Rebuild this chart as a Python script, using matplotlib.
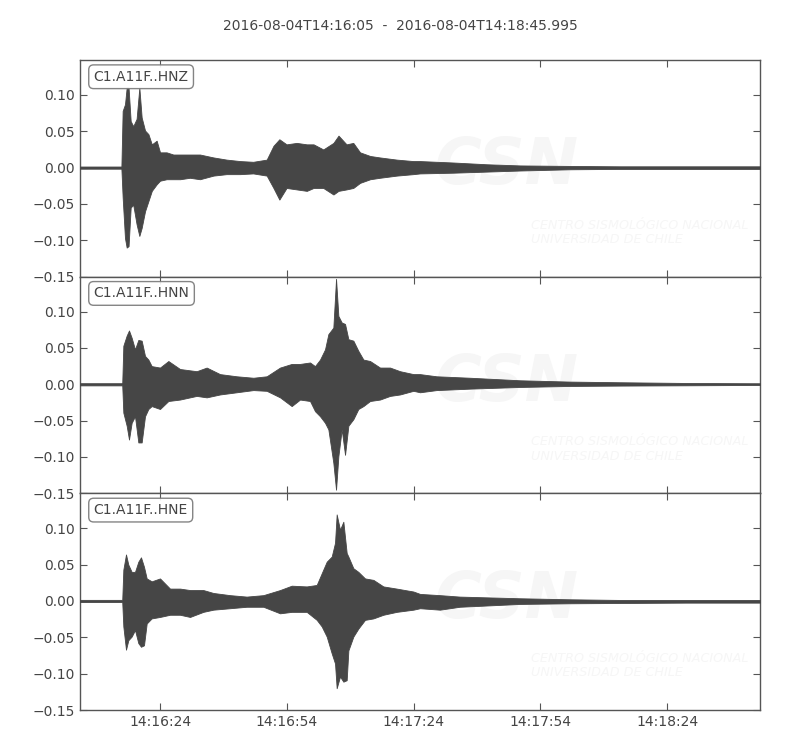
import numpy as np
import matplotlib
matplotlib.use("Agg")
import matplotlib.pyplot as plt
import matplotlib.dates as mdates

# ── data (envelopes; seconds after start, amplitude) ──
START = np.datetime64("2016-08-04T14:16:05.000")
DURATION = 160.995
TITLE = "2016-08-04T14:16:05  -  2016-08-04T14:18:45.995"
CHANNELS = ["C1.A11F..HNZ", "C1.A11F..HNN", "C1.A11F..HNE"]

z_t = [0, 9.8, 10.1, 10.65, 11.05, 11.5, 12.0, 12.6, 13.4, 14.05, 14.6, 15.4, 16.2, 17.0,
       18.15, 18.95, 20.5, 22.1, 23.7, 26.0, 28.4, 31.6, 34.7, 37.9, 41.0, 44.2, 45.8, 47.2,
       48.9, 51.3, 53.7, 55.3, 57.6, 60.0, 61.2, 63.1, 64.7, 66.3, 68.7, 71.0, 75.0, 78.9,
       80.5, 88.4, 96.3, 104.2, 116.0, 127.8, 143.6, 161.0]
z_top = [0.0015, 0.0015, 0.078, 0.087, 0.110, 0.110, 0.064, 0.057, 0.067, 0.110, 0.069, 0.051,
         0.046, 0.032, 0.037, 0.021, 0.021, 0.018, 0.018, 0.018, 0.018, 0.014, 0.011, 0.009,
         0.008, 0.011, 0.030, 0.039, 0.032, 0.034, 0.032, 0.032, 0.025, 0.034, 0.044, 0.032,
         0.034, 0.021, 0.016, 0.014, 0.011, 0.009, 0.009, 0.007, 0.0046, 0.003, 0.0023,
         0.0018, 0.0018, 0.0018]
z_bot = [-0.0015, -0.0015, -0.041, -0.097, -0.110, -0.108, -0.055, -0.051, -0.078, -0.094,
         -0.083, -0.060, -0.046, -0.032, -0.023, -0.018, -0.016, -0.016, -0.016, -0.014,
         -0.016, -0.011, -0.009, -0.009, -0.008, -0.011, -0.028, -0.044, -0.028, -0.030,
         -0.032, -0.028, -0.028, -0.037, -0.032, -0.030, -0.028, -0.021, -0.016, -0.014,
         -0.011, -0.009, -0.008, -0.007, -0.0055, -0.004, -0.0023, -0.0018, -0.0018, -0.0018]

n_t = [0, 10.0, 10.26, 11.05, 11.6, 12.23, 13.02, 13.81, 14.6, 15.39, 16.18, 16.97, 18.94,
       20.92, 23.68, 27.62, 29.99, 33.15, 37.1, 41.04, 44.2, 47.36, 50.12, 52.09, 54.46, 55.64,
       56.83, 58.01, 58.8, 59.98, 60.62, 61.17, 61.96, 62.75, 63.54, 64.72, 65.9, 67.09, 68.67,
       71.03, 73.4, 75.77, 78.93, 80.5, 84.4, 92.3, 104.2, 116.0, 127.8, 143.6, 161.0]
n_top = [0.0015, 0.0015, 0.053, 0.067, 0.074, 0.064, 0.048, 0.061, 0.060, 0.039, 0.034, 0.025,
         0.023, 0.032, 0.021, 0.018, 0.023, 0.014, 0.011, 0.009, 0.011, 0.023, 0.028, 0.028,
         0.030, 0.025, 0.034, 0.048, 0.069, 0.078, 0.145, 0.094, 0.085, 0.083, 0.062, 0.060,
         0.046, 0.034, 0.032, 0.023, 0.023, 0.018, 0.014, 0.014, 0.011, 0.009, 0.0055, 0.0037,
         0.0028, 0.0018, 0.0014]
n_bot = [-0.0015, -0.0015, -0.039, -0.057, -0.076, -0.053, -0.044, -0.080, -0.080, -0.044,
         -0.034, -0.030, -0.034, -0.023, -0.021, -0.016, -0.018, -0.014, -0.011, -0.008,
         -0.009, -0.018, -0.030, -0.021, -0.023, -0.037, -0.044, -0.053, -0.062, -0.108,
         -0.145, -0.099, -0.062, -0.097, -0.057, -0.048, -0.034, -0.030, -0.023, -0.021,
         -0.016, -0.014, -0.009, -0.011, -0.008, -0.006, -0.0037, -0.0023, -0.0018, -0.0014,
         -0.0009]

e_t = [0, 10.0, 10.26, 10.89, 11.44, 12.23, 13.02, 13.81, 14.44, 15.15, 15.79, 16.97, 18.94,
       21.31, 23.68, 26.05, 29.2, 31.57, 35.52, 39.46, 43.41, 47.36, 50.12, 53.67, 56.04, 57.22,
       58.41, 59.59, 60.38, 60.77, 61.56, 62.35, 63.14, 63.54, 64.72, 65.9, 67.48, 69.46, 71.82,
       74.98, 78.93, 80.5, 85.2, 89.9, 104.2, 116.0, 127.8, 143.6, 161.0]
e_top = [0.0015, 0.0015, 0.043, 0.064, 0.050, 0.040, 0.040, 0.054, 0.060, 0.047, 0.031, 0.027,
         0.031, 0.017, 0.017, 0.015, 0.015, 0.011, 0.008, 0.006, 0.008, 0.015, 0.021, 0.020,
         0.022, 0.038, 0.054, 0.061, 0.080, 0.119, 0.098, 0.109, 0.066, 0.061, 0.045, 0.040,
         0.031, 0.029, 0.020, 0.017, 0.013, 0.0097, 0.008, 0.006, 0.0037, 0.0023, 0.0014,
         0.0014, 0.0014]
e_bot = [-0.0015, -0.0015, -0.035, -0.067, -0.054, -0.049, -0.040, -0.058, -0.063, -0.061,
         -0.031, -0.024, -0.022, -0.019, -0.019, -0.022, -0.015, -0.012, -0.010, -0.008,
         -0.008, -0.017, -0.015, -0.015, -0.026, -0.035, -0.049, -0.072, -0.086, -0.120,
         -0.104, -0.111, -0.109, -0.068, -0.049, -0.038, -0.026, -0.024, -0.019, -0.015,
         -0.012, -0.010, -0.012, -0.008, -0.0041, -0.0032, -0.0028, -0.0023, -0.0023]

traces = [(z_t, z_top, z_bot), (n_t, n_top, n_bot), (e_t, e_top, e_bot)]

# ── style ──────────────────────────────────────────────────────────────────
WAVE = "#464646"
GREY = "#444444"
MARK = "#f6f6f6"   # watermark
plt.rcParams.update({
    "font.family": ["DejaVu Sans"],
    "font.size": 10,
    "text.color": GREY,
    "axes.edgecolor": "#555555",
    "xtick.color": "#555555",
    "ytick.color": "#555555",
    "xtick.labelcolor": GREY,
    "ytick.labelcolor": GREY,
    "xtick.direction": "in",
    "ytick.direction": "in",
})


def to_num(ts):
    secs = (np.asarray(ts) * 1000).round().astype("int64")
    return mdates.date2num(START + secs.astype("timedelta64[ms]"))


fig, axes = plt.subplots(3, 1, sharex=True, figsize=(8, 7.5), dpi=100)
fig.subplots_adjust(left=0.1, right=0.95, top=0.92, bottom=0.0533, hspace=0)
fig.suptitle(TITLE, y=0.975, fontsize=10, color=GREY)

x0 = to_num([0])[0]
x1 = to_num([DURATION])[0]

for ax, (t, top, bot), name in zip(axes, traces, CHANNELS):
    x = to_num(t)
    ax.fill_between(x, bot, top, color=WAVE, lw=0.6, edgecolor=WAVE, zorder=3)

    # faint watermark
    ax.text(0.627, 0.51, "CSN", transform=ax.transAxes, fontsize=46, fontweight="bold",
            style="italic", color=MARK, ha="center", va="center", zorder=0)
    ax.text(0.663, 0.205, "CENTRO SISMOLÓGICO NACIONAL\nUNIVERSIDAD DE CHILE",
            transform=ax.transAxes, fontsize=9.2, style="italic", color=MARK,
            ha="left", va="center", linespacing=1.15, zorder=0, clip_on=True)

    ax.text(0.02, 0.955, name, transform=ax.transAxes, ha="left", va="top", fontsize=10,
            color=GREY, zorder=5,
            bbox=dict(boxstyle="round,pad=0.35", fc="white", ec="#777777", alpha=0.9))

    ax.set_ylim(-0.15, 0.148)
    ax.set_yticks([-0.15, -0.10, -0.05, 0.0, 0.05, 0.10])
    ax.tick_params(top=True, right=True, length=5, width=0.8)
    for sp in ax.spines.values():
        sp.set_linewidth(1.0)

axes[-1].set_xlim(x0, x1)
axes[-1].xaxis.set_major_locator(mdates.SecondLocator(bysecond=[24, 54]))
axes[-1].xaxis.set_major_formatter(mdates.DateFormatter("%H:%M:%S"))

fig.savefig("out.png", dpi=100)
